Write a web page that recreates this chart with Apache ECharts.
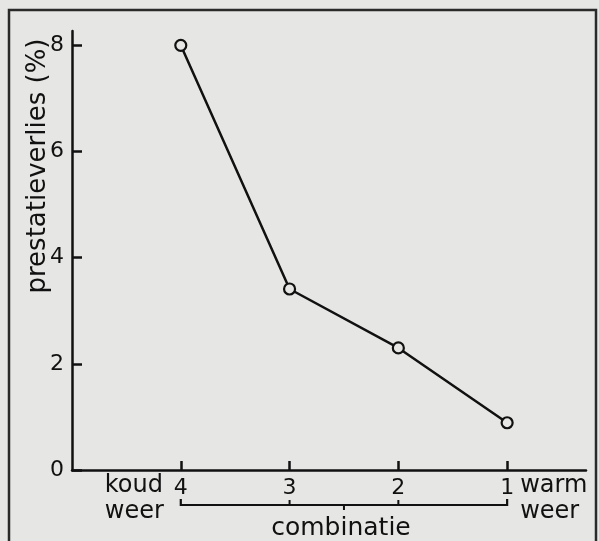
<!DOCTYPE html>
<html>
<head>
<meta charset="utf-8">
<script src="https://cdn.jsdelivr.net/npm/echarts@6/dist/echarts.min.js"></script>
<style>
  html, body { margin: 0; padding: 0; background: #e6e6e4; }
  #c { width: 599px; height: 541px; }
</style>
</head>
<body>
<div id="c"></div>
<script>
// ---- data ----
const categories = [4, 3, 2, 1];
const values = [8.0, 3.41, 2.30, 0.89];
const yTicks = [0, 2, 4, 6, 8];
const yTitle = 'prestatieverlies (%)';
const leftLabel = 'koud\nweer';
const rightLabel = 'warm\nweer';
const bracketLabel = 'combinatie';

const INK = '#111111';
const BG = '#e6e6e4';
const FONT = 'DejaVu Sans';

const chart = echarts.init(document.getElementById('c'), null, { renderer: 'canvas' });

chart.setOption({
  backgroundColor: BG,
  animation: false,
  grid: { left: 72, right: 13, top: 31, bottom: 71 },
  xAxis: {
    type: 'value',
    inverse: true,
    min: 0.275,
    max: 5.0,
    splitLine: { show: false },
    axisLine: { show: true, lineStyle: { color: INK, width: 2.5 } },
    axisTick: { show: true, inside: true, length: 9, customValues: categories, lineStyle: { color: INK, width: 2.5 } },
    axisLabel: { customValues: categories, color: INK, fontFamily: FONT, fontSize: 22, margin: 7 }
  },
  yAxis: {
    type: 'value',
    min: 0,
    max: 8.27,
    splitLine: { show: false },
    axisLine: { show: true, lineStyle: { color: INK, width: 2.5 } },
    axisTick: { show: true, inside: true, length: 10, customValues: yTicks, lineStyle: { color: INK, width: 2.5 } },
    axisLabel: { customValues: yTicks, color: INK, fontFamily: FONT, fontSize: 22, margin: 8 }
  },
  series: [{
    type: 'line',
    data: categories.map((c, i) => [c, values[i]]),
    symbol: 'circle',
    symbolSize: 11,
    lineStyle: { color: INK, width: 2.5 },
    itemStyle: { color: BG, borderColor: INK, borderWidth: 2.2 }
  }]
});

function drawExtras() {
  const first = categories[0], last = categories[categories.length - 1];
  const p0 = chart.convertToPixel({ gridIndex: 0 }, [first, 0]);
  const p1 = chart.convertToPixel({ gridIndex: 0 }, [last, 0]);
  const axisY = p0[1];
  const bY = axisY + 35;
  const mid = (p0[0] + p1[0]) / 2;
  const elements = [];
  // frame
  elements.push({ type: 'rect', shape: { x: 9, y: 10, width: 587, height: 560 },
    style: { fill: 'none', stroke: '#2a2a2a', lineWidth: 2.5 }, silent: true, z: 10 });
  // bracket
  elements.push({ type: 'polyline', shape: { points: [[p0[0], bY - 6], [p0[0], bY], [p1[0], bY], [p1[0], bY - 6]] },
    style: { fill: 'none', stroke: INK, lineWidth: 2.2 }, z: 10 });
  categories.slice(1, -1).forEach(c => {
    const px = chart.convertToPixel({ gridIndex: 0 }, [c, 0])[0];
    elements.push({ type: 'line', shape: { x1: px, y1: bY - 5, x2: px, y2: bY },
      style: { stroke: INK, lineWidth: 2 }, z: 10 });
  });
  elements.push({ type: 'line', shape: { x1: mid, y1: bY, x2: mid, y2: bY + 5 },
    style: { stroke: INK, lineWidth: 2 }, z: 10 });
  // texts
  elements.push({ type: 'text', x: mid - 3, y: bY + 23,
    style: { text: bracketLabel, font: '25px ' + FONT, fill: INK, align: 'center', verticalAlign: 'middle' }, z: 10 });
  elements.push({ type: 'text', x: p0[0] - 76, y: axisY + 3,
    style: { text: leftLabel, font: '24px ' + FONT, fill: INK, align: 'left', verticalAlign: 'top', lineHeight: 26 }, z: 10 });
  elements.push({ type: 'text', x: p1[0] + 13, y: axisY + 3,
    style: { text: rightLabel, font: '24px ' + FONT, fill: INK, align: 'left', verticalAlign: 'top', lineHeight: 26 }, z: 10 });
  // y title
  elements.push({ type: 'text', x: 38, y: 166, rotation: Math.PI / 2,
    style: { text: yTitle, font: '26px ' + FONT, fill: INK, align: 'center', verticalAlign: 'middle' }, z: 10 });
  chart.setOption({ graphic: elements });
}
drawExtras();
</script>
</body>
</html>
